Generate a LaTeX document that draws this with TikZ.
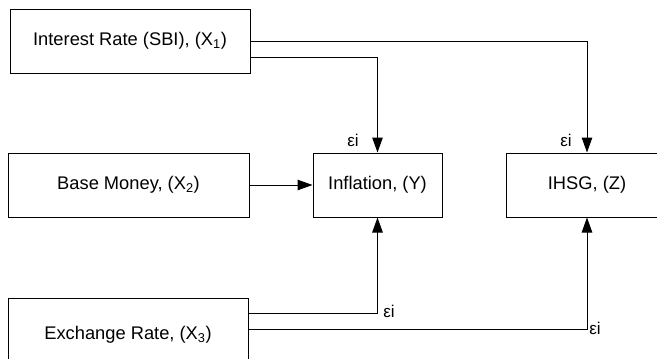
\documentclass[tikz,border=0pt]{standalone}
\usepackage{fontspec}
\setmainfont{Liberation Sans}
\usetikzlibrary{arrows.meta}
\begin{document}
\begin{tikzpicture}[x=1pt,y=-1pt,
  box/.style={draw, line width=1pt, rectangle, inner sep=0pt, font=\fontsize{18.3}{21}\selectfont},
  conn/.style={line width=1pt},
  arr/.style={conn, -{Triangle[length=15pt,width=10.5pt]}},
  eps/.style={font=\fontsize{17}{19}\selectfont, inner sep=0pt}]
\useasboundingbox (0,0) rectangle (657,359);
\clip (0,0) rectangle (657,359);
\node[box, minimum width=240pt, minimum height=64pt] (b1) at (130,41) {Interest Rate (SBI), (X\textsubscript{1})};
\node[box, minimum width=241pt, minimum height=64pt] (b2) at (128.5,185) {Base Money, (X\textsubscript{2})};
\node[box, minimum width=240pt, minimum height=74pt] (b3) at (128,335) {Exchange Rate, (X\textsubscript{3})};
\node[box, minimum width=129pt, minimum height=64pt] (inf) at (377.5,185) {Inflation, (Y)};
\node[box, minimum width=162pt, minimum height=64pt] (ihsg) at (587,185) {IHSG, (Z)};
\draw[arr] (b1.east) -| (ihsg.north);
\draw[arr] ([yshift=-16pt]b1.east) -| (inf.north);
\draw[arr] (b2.east) -- (inf.west);
\draw[arr] ([yshift=22pt]b3.east) -| (inf.south);
\draw[arr] ([yshift=6pt]b3.east) -| (ihsg.south);
\node[eps] (e1) at (353,140) {εi};
\node[eps] (e2) at (566,140) {εi};
\node[eps] (e3) at (389,311) {εi};
\node[eps] (e4) at (595,328) {εi};
\end{tikzpicture}
\end{document}
